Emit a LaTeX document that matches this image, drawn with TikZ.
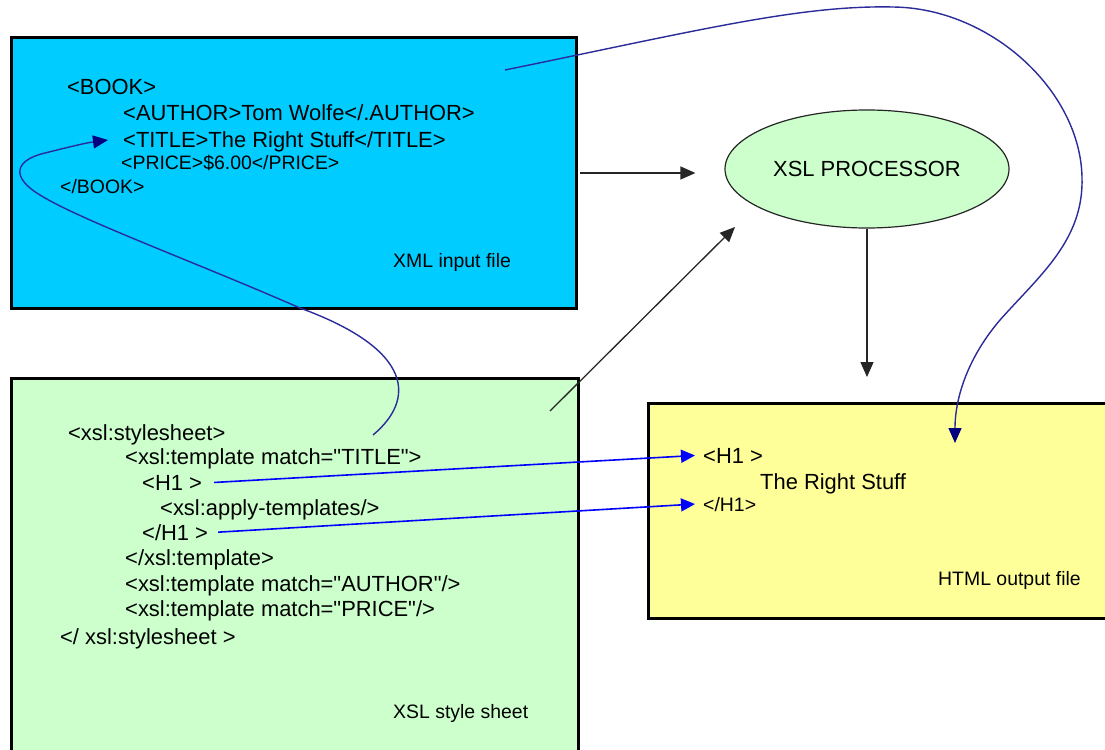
\documentclass[tikz,border=0pt]{standalone}
\usepackage{fontspec}
\setmainfont{Liberation Sans}
\newfontfamily\lsans{Liberation Sans}
\usetikzlibrary{arrows.meta,shapes.geometric}
\definecolor{xmlblue}{HTML}{00CCFF}
\definecolor{xslgreen}{HTML}{CCFFCC}
\definecolor{htmlyellow}{HTML}{FFFF99}
\definecolor{navycurve}{HTML}{2B2B9A}
\definecolor{navytip}{HTML}{000080}
\definecolor{brightblue}{HTML}{0000FF}
\begin{document}
\begin{tikzpicture}[x=1bp,y=-1bp,
  box/.style={draw=black, line width=3bp, inner sep=0pt, anchor=north west},
  txt/.style={anchor=base west, inner sep=0pt, font=\lsans\fontsize{22}{26}\selectfont},
  stxt/.style={anchor=base west, inner sep=0pt, font=\lsans\fontsize{19.5}{23}\selectfont},
  flow/.style={draw=black!85, line width=1.3bp, -{Triangle[length=15bp,width=13bp]}},
  link/.style={draw=navycurve, line width=1.4bp, -{Triangle[length=15bp,width=13bp,color=navytip]}},
  maplink/.style={draw=brightblue, line width=1.6bp, -{Triangle[length=14bp,width=13bp]}},
]
\useasboundingbox (0,0) rectangle (1105,750);
\fill[white] (0,0) rectangle (1105,750);
\begin{scope}
\clip (0,0) rectangle (1105,750);
% boxes
\node[box, fill=xmlblue, minimum width=565bp, minimum height=271bp] (xml) at (10,36) {};
\node[box, fill=xslgreen, minimum width=567bp, minimum height=390bp] (xsl) at (10,377) {};
\node[box, fill=htmlyellow, minimum width=480bp, minimum height=215bp] (html) at (647,402) {};
\node[ellipse, draw=black!85, line width=1.2bp, fill=xslgreen, minimum width=284bp, minimum height=118bp, inner sep=0pt, font=\lsans\fontsize{22}{26}\selectfont] (proc) at (867,169) {XSL PROCESSOR};

% XML text
\node[txt] (book) at (67,95) {<BOOK>};
\node[txt] (author) at (123,120) {<AUTHOR>Tom Wolfe</.AUTHOR>};
\node[txt] (title) at (123,147) {<TITLE>The Right Stuff</TITLE>};
\node[stxt] (price) at (121,169) {<PRICE>\$6.00</PRICE>};
\node[stxt] (bookend) at (60,193) {</BOOK>};
\node[stxt] (xmllabel) at (393,267) {XML input file};

% XSL text
\node[txt] (ss) at (68,440) {<xsl:stylesheet>};
\node[txt] (tt) at (125,464) {<xsl:template match="TITLE">};
\node[txt] (xh1) at (142,490) {<H1 >};
\node[txt] (apply) at (160,515) {<xsl:apply-templates/>};
\node[txt] (xch1) at (142,540) {</H1 >};
\node[txt] (tend) at (125,565) {</xsl:template>};
\node[txt] (ta) at (125,591) {<xsl:template match="AUTHOR"/>};
\node[txt] (tp) at (125,616) {<xsl:template match="PRICE"/>};
\node[txt] (ssend) at (60,644) {</ xsl:stylesheet >};
\node[stxt] (xsllabel) at (393,718) {XSL style sheet};

% HTML text
\node[txt] (hh1) at (703,463) {<H1 >};
\node[txt] (rs) at (760,489) {The Right Stuff};
\node[stxt] (hch1) at (703,511) {</H1>};
\node[stxt] (htmllabel) at (938,585) {HTML output file};

% flow arrows
\draw[flow] ([xshift=2bp]xml.east |- 0,173) -- ([xshift=-29bp]proc.west |- 0,173);
\coordinate (d1) at (550,411);
\coordinate (d2) at (735,227);
\draw[flow] (d1) -- (d2);
\draw[flow] (proc.south) -- ([yshift=25bp]html.north -| proc.south);

% mapping arrows
\draw[maplink] ([xshift=12bp]xh1.east) -- ([xshift=-8bp]hh1.west);
\draw[maplink] ([xshift=10bp]xch1.east) -- ([xshift=-8bp]hch1.west);

% curved links
\coordinate (c1s) at (505,70);
\coordinate (c1e) at (955,443);
\draw[link] (c1s) .. controls (700,30) and (800,5) .. (893,7)
  .. controls (990,8) and (1080,90) .. (1082,177)
  .. controls (1084,240) and (1040,275) .. (1000,320)
  .. controls (970,355) and (955,395) .. (c1e);
\coordinate (c2s) at (373,435);
\coordinate (c2e) at (108,140);
\draw[link] (c2s) .. controls (415,400) and (415,350) .. (300,308)
  .. controls (195,262) and (80,220) .. (40,195)
  .. controls (10,177) and (15,160) .. (45,153)
  .. controls (65,148) and (85,143) .. (c2e);
\end{scope}
\end{tikzpicture}
\end{document}
